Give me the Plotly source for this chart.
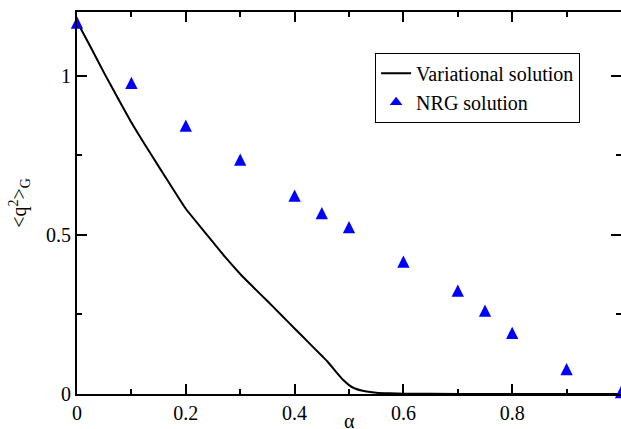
import plotly.graph_objects as go

# Variational solution
alpha_var = [0.0, 0.025, 0.05, 0.075, 0.1, 0.125, 0.15, 0.175, 0.2, 0.228, 0.25, 0.275,
             0.3, 0.325, 0.35, 0.375, 0.4, 0.425, 0.45, 0.46, 0.475, 0.49, 0.5, 0.51,
             0.525, 0.55, 0.575, 0.6, 0.7, 0.8, 0.9, 1.0]
q2_var = [1.17, 1.09, 1.008, 0.93, 0.853, 0.783, 0.715, 0.648, 0.582, 0.523, 0.477, 0.425,
          0.377, 0.334, 0.292, 0.249, 0.206, 0.163, 0.120, 0.103, 0.072, 0.043, 0.028, 0.018,
          0.010, 0.004, 0.002, 0.001, 0.0, 0.0, 0.0, 0.0]

# NRG solution
alpha_nrg = [0.0, 0.1, 0.2, 0.3, 0.4, 0.45, 0.5, 0.6, 0.7, 0.75, 0.8, 0.9, 1.0]
q2_nrg = [1.169, 0.979, 0.845, 0.738, 0.625, 0.570, 0.526, 0.418, 0.327, 0.264, 0.194, 0.080, 0.008]

x_ticks = [0, 0.2, 0.4, 0.6, 0.8, 1.0]
x_ticktext = ["0", "0.2", "0.4", "0.6", "0.8", "1"]
y_ticks = [0, 0.5, 1.0]
y_ticktext = ["0", "0.5", "1"]

FONT = "Liberation Serif"
BLUE = "#0000ff"
msize = 12.3

fig = go.Figure()
fig.add_trace(go.Scatter(
    x=alpha_var, y=q2_var, mode="lines", name="Variational solution",
    line=dict(color="black", width=2, shape="spline", smoothing=0.5),
))
# data markers (equilateral-looking triangles centred on the points)
fig.add_trace(go.Scatter(
    x=alpha_nrg, y=q2_nrg, mode="markers", name="NRG solution", showlegend=False,
    marker=dict(symbol="arrow-down", angle=180, standoff=0.45 * msize,
                size=msize, color=BLUE, line=dict(width=0)),
    cliponaxis=False,
))
# legend entry for the NRG markers
fig.add_trace(go.Scatter(
    x=[None], y=[None], mode="markers", name="NRG solution",
    marker=dict(symbol="triangle-up", size=11, color=BLUE, line=dict(width=0)),
))

axis_common = dict(
    showline=True, linecolor="black", linewidth=2,
    ticks="inside", ticklen=10, tickwidth=1.5, tickcolor="black",
    showgrid=False, zeroline=False, automargin=False,
    tickfont=dict(family=FONT, size=20, color="black"),
    mirror="allticks",
)

fig.update_layout(
    width=621, height=429,
    margin=dict(l=77, r=0, t=12, b=35),
    paper_bgcolor="white", plot_bgcolor="white",
    font=dict(family=FONT, size=20, color="black"),
    xaxis=dict(
        range=[0, 1.0], tickvals=x_ticks, ticktext=x_ticktext,
        minor=dict(ticks="inside", ticklen=5, tickwidth=1.5, tickcolor="black", dtick=0.1, tick0=0),
        **axis_common,
    ),
    yaxis=dict(
        range=[0, 1.2], tickvals=y_ticks, ticktext=y_ticktext,
        minor=dict(ticks="inside", ticklen=5, tickwidth=1.5, tickcolor="black", dtick=0.25, tick0=0),
        title=dict(text="<q<sup>2</sup>><sub>G</sub>", font=dict(family=FONT, size=20, color="black"), standoff=14),
        **axis_common,
    ),
    legend=dict(
        x=0.548, y=0.893, xanchor="left", yanchor="top",
        bgcolor="white", bordercolor="black", borderwidth=1,
        font=dict(family=FONT, size=20, color="black"),
        tracegroupgap=0,
    ),
    showlegend=True,
    annotations=[dict(
        text="α", xref="paper", yref="paper", x=0.5, y=-0.070,
        xanchor="center", yanchor="middle", showarrow=False,
        font=dict(family=FONT, size=20, color="black"),
    )],
)

# remove the default page margin so the figure fills the 621x429 window exactly
fig.write_html(
    "out.html",
    config={"displayModeBar": False},
    post_script="document.body.style.margin='0';document.body.style.overflow='hidden';",
)
